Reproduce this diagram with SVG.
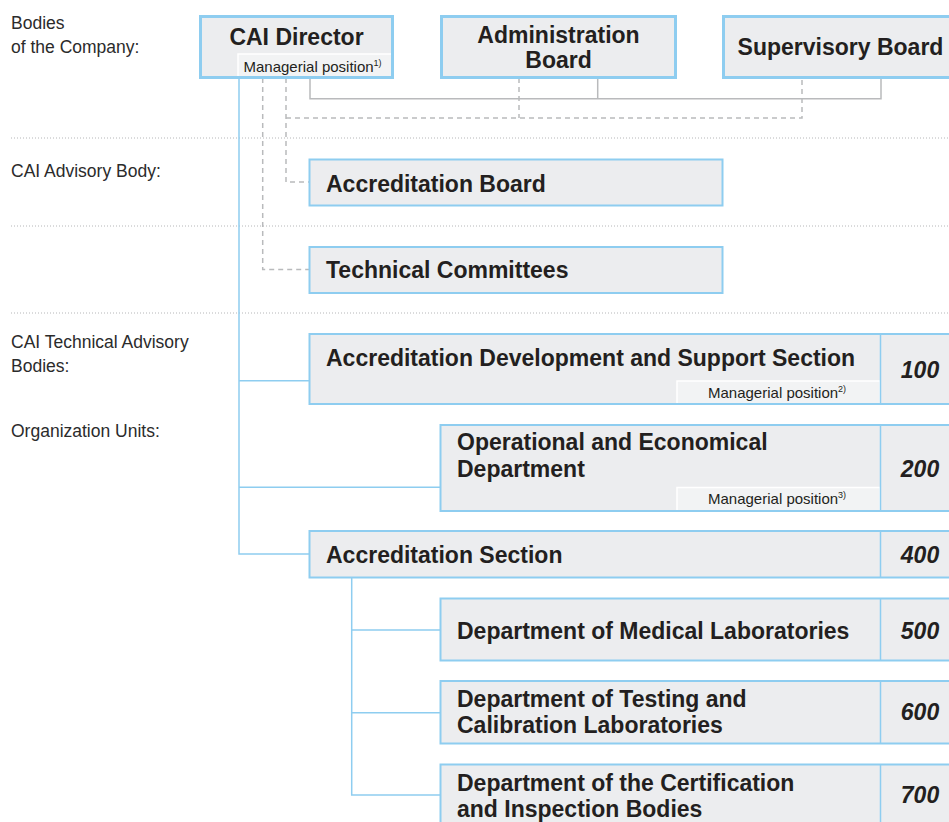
<svg xmlns="http://www.w3.org/2000/svg" width="949" height="822" viewBox="0 0 949 822">
<defs>
<style>
.lbl{font-family:"Liberation Sans",Arial,sans-serif;font-size:17.5px;fill:#2b2b2b}
.t{font-family:"Liberation Sans",Arial,sans-serif;font-size:23px;font-weight:bold;fill:#231f20}
.tc{font-family:"Liberation Sans",Arial,sans-serif;font-size:23px;font-weight:bold;fill:#231f20;text-anchor:middle}
.num{font-family:"Liberation Sans",Arial,sans-serif;font-size:23px;font-weight:bold;font-style:italic;fill:#231f20;text-anchor:middle}
.mp{font-family:"Liberation Sans",Arial,sans-serif;font-size:15px;fill:#231f20}
.sup{font-size:9px}
.fill{fill:#ecedef;stroke:none}
.bord{fill:none;stroke:#8ecdf0;stroke-width:2}
.tbord{fill:none;stroke:#8ecdf0;stroke-width:3}
.sub{fill:#f2f3f4;stroke:#ffffff;stroke-width:1.5}
.div{stroke:#8ecdf0;stroke-width:1.5}
.sep{stroke:#b5b6b8;stroke-width:1;stroke-dasharray:1 2}
.bl{fill:none;stroke:#8ecdf0;stroke-width:1.5}
.gr{fill:none;stroke:#b9babc;stroke-width:1.5}
.ds{fill:none;stroke:#b9babc;stroke-width:1.5;stroke-dasharray:5 4}
</style>
</defs>
<rect width="949" height="822" fill="#ffffff"/>
<g id="separators">
<line class="sep" x1="11" y1="138" x2="949" y2="138"/>
<line class="sep" x1="11" y1="226" x2="949" y2="226"/>
<line class="sep" x1="11" y1="313" x2="949" y2="313"/>
</g>
<g id="labels">
<text class="lbl" x="11" y="29">Bodies</text>
<text class="lbl" x="11" y="53">of the Company:</text>
<text class="lbl" x="11" y="177">CAI Advisory Body:</text>
<text class="lbl" x="11" y="347.5">CAI Technical Advisory</text>
<text class="lbl" x="11" y="371.5">Bodies:</text>
<text class="lbl" x="11" y="437">Organization Units:</text>
</g>
<g id="connectors">
<path class="bl" d="M239,78 V554 H309 M239,380.7 H309 M239,487.3 H440 M351.7,578 V795 H440 M351.7,630 H440 M351.7,712.7 H440"/>
<path class="gr" d="M310,78 V98.7 H881 V78 M597.7,78 V98.7"/>
<path class="ds" d="M286,78 V182 H309 M262.7,78 V269.5 H309 M286,118 H802 V78 M519,78 V118"/>
</g>
<g id="cai-director">
<rect class="fill" x="200.5" y="16.5" width="192" height="61"/>
<rect class="sub" x="238" y="54" width="155" height="23"/>
<rect class="tbord" x="200.5" y="16.5" width="192" height="61"/>
<text class="tc" x="296.5" y="45">CAI Director</text>
<text class="mp" x="243.5" y="72">Managerial position<tspan class="sup" dy="-6">1)</tspan></text>
</g>
<g id="administration-board">
<rect class="fill" x="441.5" y="16.5" width="234" height="61"/>
<rect class="tbord" x="441.5" y="16.5" width="234" height="61"/>
<text class="tc" x="558.5" y="43">Administration</text>
<text class="tc" x="558.5" y="68">Board</text>
</g>
<g id="supervisory-board">
<rect class="fill" x="723.5" y="16.5" width="240" height="61"/>
<rect class="tbord" x="723.5" y="16.5" width="240" height="61"/>
<text class="tc" x="840.5" y="55">Supervisory Board</text>
</g>
<g id="accreditation-board">
<rect class="fill" x="309.5" y="159.5" width="413" height="46"/>
<rect class="bord" x="309.5" y="159.5" width="413" height="46"/>
<text class="t" x="326" y="192">Accreditation Board</text>
</g>
<g id="technical-committees">
<rect class="fill" x="309.5" y="247" width="413" height="46"/>
<rect class="bord" x="309.5" y="247" width="413" height="46"/>
<text class="t" x="326" y="278">Technical Committees</text>
</g>
<g id="section-100">
<rect class="fill" x="309.5" y="334" width="660" height="70"/>
<rect class="sub" x="677" y="381" width="203" height="23"/>
<rect class="bord" x="309.5" y="334" width="660" height="70"/>
<line class="div" x1="880.5" y1="334" x2="880.5" y2="404"/>
<text class="t" x="326" y="366">Accreditation Development and Support Section</text>
<text class="mp" x="708" y="398">Managerial position<tspan class="sup" dy="-6">2)</tspan></text>
<text class="num" x="920" y="378">100</text>
</g>
<g id="department-200">
<rect class="fill" x="440.5" y="425" width="530" height="86"/>
<rect class="sub" x="677" y="487.5" width="203" height="23.5"/>
<rect class="bord" x="440.5" y="425" width="530" height="86"/>
<line class="div" x1="880.5" y1="425" x2="880.5" y2="511"/>
<text class="t" x="457" y="450">Operational and Economical</text>
<text class="t" x="457" y="476.5">Department</text>
<text class="mp" x="708" y="503.5">Managerial position<tspan class="sup" dy="-6">3)</tspan></text>
<text class="num" x="920" y="476.5">200</text>
</g>
<g id="section-400">
<rect class="fill" x="309.5" y="531" width="660" height="46.5"/>
<rect class="bord" x="309.5" y="531" width="660" height="46.5"/>
<line class="div" x1="880.5" y1="531" x2="880.5" y2="577.5"/>
<text class="t" x="326" y="563">Accreditation Section</text>
<text class="num" x="920" y="563">400</text>
</g>
<g id="department-500">
<rect class="fill" x="440.5" y="598.5" width="530" height="62"/>
<rect class="bord" x="440.5" y="598.5" width="530" height="62"/>
<line class="div" x1="880.5" y1="598.5" x2="880.5" y2="660.5"/>
<text class="t" x="457" y="639.3">Department of Medical Laboratories</text>
<text class="num" x="920" y="639">500</text>
</g>
<g id="department-600">
<rect class="fill" x="440.5" y="681" width="530" height="62.5"/>
<rect class="bord" x="440.5" y="681" width="530" height="62.5"/>
<line class="div" x1="880.5" y1="681" x2="880.5" y2="743.5"/>
<text class="t" x="457" y="707">Department of Testing and</text>
<text class="t" x="457" y="733">Calibration Laboratories</text>
<text class="num" x="920" y="720">600</text>
</g>
<g id="department-700">
<rect class="fill" x="440.5" y="764.5" width="530" height="80"/>
<rect class="bord" x="440.5" y="764.5" width="530" height="80"/>
<line class="div" x1="880.5" y1="764.5" x2="880.5" y2="844.5"/>
<text class="t" x="457" y="790.7">Department of the Certification</text>
<text class="t" x="457" y="816.7">and Inspection Bodies</text>
<text class="num" x="920" y="802.7">700</text>
</g>
</svg>
